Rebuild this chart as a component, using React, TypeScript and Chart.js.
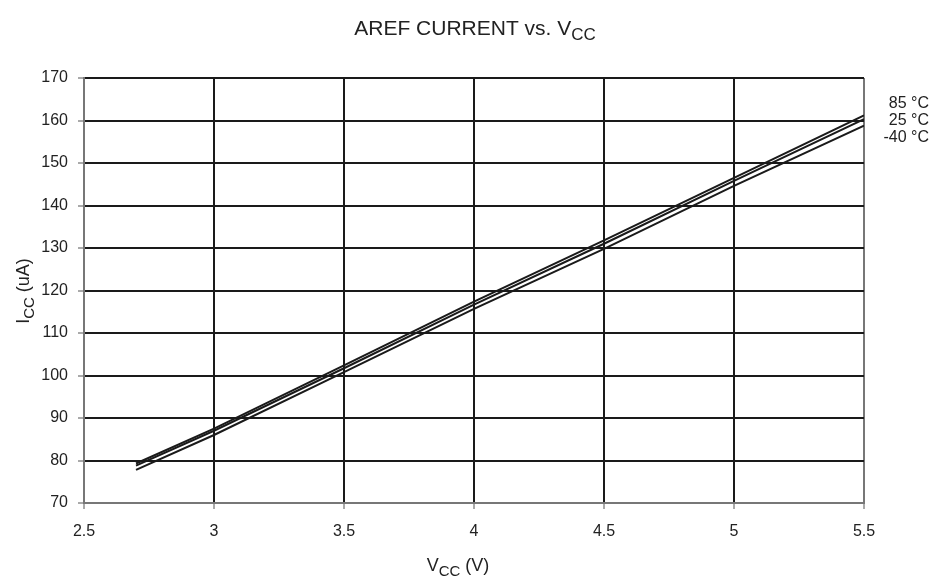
import React, { useEffect, useRef } from "react";
import { Chart, registerables } from "chart.js";

Chart.register(...registerables);

const vcc = [2.7, 3, 3.5, 4, 4.5, 5, 5.5];
const i85 = [79.3, 87.5, 102.4, 117.4, 131.8, 146.5, 161.2];
const i25 = [78.8, 87.0, 101.7, 116.7, 131.0, 145.8, 160.3];
const iM40 = [77.8, 86.0, 100.8, 115.7, 129.8, 144.6, 158.8];
const seriesLabels = ["85 °C", "25 °C", "-40 °C"];
const xTicks = [2.5, 3, 3.5, 4, 4.5, 5, 5.5];
const yTicks = [70, 80, 90, 100, 110, 120, 130, 140, 150, 160, 170];

const FONT = "Liberation Sans, Arial, sans-serif";

function drawSub(ctx: CanvasRenderingContext2D, main: string, sub: string, rest: string, size: number, cx: number, cy: number) {
  const subSize = Math.round(size * 0.82);
  ctx.font = `${size}px ${FONT}`;
  const w1 = ctx.measureText(main).width;
  const w3 = ctx.measureText(rest).width;
  ctx.font = `${subSize}px ${FONT}`;
  const w2 = ctx.measureText(sub).width;
  const total = w1 + w2 + w3;
  let x = cx - total / 2;
  ctx.textBaseline = "middle";
  ctx.textAlign = "left";
  ctx.font = `${size}px ${FONT}`;
  ctx.fillText(main, x, cy);
  x += w1;
  ctx.font = `${subSize}px ${FONT}`;
  ctx.fillText(sub, x, cy + size * 0.32);
  x += w2;
  ctx.font = `${size}px ${FONT}`;
  ctx.fillText(rest, x, cy);
}

const textPlugin = {
  id: "texts",
  afterDraw(chart: any) {
    const ctx = chart.ctx as CanvasRenderingContext2D;
    const ca = chart.chartArea;
    ctx.save();
    ctx.fillStyle = "#222";
    drawSub(ctx, "AREF CURRENT vs. V", "CC", "", 21, 475, 29);
    drawSub(ctx, "V", "CC", " (V)", 18, 458, 566);
    ctx.save();
    ctx.translate(24, 291);
    ctx.rotate(-Math.PI / 2);
    drawSub(ctx, "I", "CC", " (uA)", 18, 0, 0);
    ctx.restore();
    ctx.font = `16px ${FONT}`;
    ctx.textAlign = "right";
    ctx.textBaseline = "middle";
    const ys = [104, 121, 138];
    seriesLabels.forEach((l, i) => ctx.fillText(l, 929, ys[i]));
    ctx.restore();
  },
};

export default function App() {
  const ref = useRef<HTMLCanvasElement>(null);
  useEffect(() => {
    document.body.style.margin = "0";
    const mk = (d: number[], label: string) => ({
      label,
      data: vcc.map((x, i) => ({ x, y: d[i] })),
      borderColor: "#1a1a1a",
      borderWidth: 2,
      pointRadius: 0,
      fill: false,
      tension: 0,
    });
    const chart = new Chart(ref.current!, {
      type: "line",
      data: { datasets: [mk(i85, seriesLabels[0]), mk(i25, seriesLabels[1]), mk(iM40, seriesLabels[2])] },
      options: {
        animation: false,
        responsive: false,
        layout: { padding: { left: 0, right: 82, top: 78, bottom: 39 } },
        plugins: { legend: { display: false }, title: { display: false }, tooltip: { enabled: false } },
        scales: {
          x: {
            type: "linear",
            min: 2.5,
            max: 5.5,
            afterBuildTicks: (s: any) => { s.ticks = xTicks.map((v) => ({ value: v })); },
            afterFit: (s: any) => { s.height = 40; },
            ticks: { color: "#222", font: { family: FONT, size: 16 }, padding: 13, callback: (v: any) => String(v) },
            grid: {
              color: (c: any) => (c.tick && (c.tick.value === 2.5 || c.tick.value === 5.5) ? "#777" : "#1a1a1a"),
              lineWidth: 2,
              tickColor: "#555",
              tickLength: 6,
              tickWidth: 1,
            },
            border: { color: "#777", width: 2 },
          },
          y: {
            type: "linear",
            min: 70,
            max: 170,
            afterBuildTicks: (s: any) => { s.ticks = yTicks.map((v) => ({ value: v })); },
            afterFit: (s: any) => { s.width = 84; },
            ticks: { color: "#222", font: { family: FONT, size: 16 }, padding: 10 },
            grid: {
              color: (c: any) => (c.tick && c.tick.value === 70 ? "#777" : "#1a1a1a"),
              lineWidth: 2,
              tickColor: "#555",
              tickLength: 6,
              tickWidth: 1,
            },
            border: { color: "#777", width: 2 },
          },
        },
      },
      plugins: [textPlugin],
    });
    return () => chart.destroy();
  }, []);
  return (
    <div style={{ width: 946, height: 582, background: "#fff" }}>
      <canvas ref={ref} width={946} height={582} />
    </div>
  );
}
